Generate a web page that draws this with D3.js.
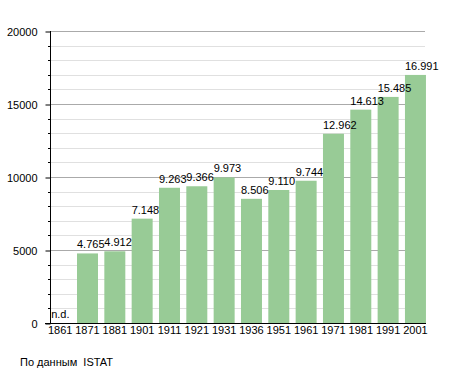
<!DOCTYPE html>
<html>
<head>
<meta charset="utf-8">
<script src="https://cdn.jsdelivr.net/npm/d3@7"></script>
<style>
  body { margin: 0; background: #fff; }
  text { font-family: "Liberation Sans", Arial, sans-serif; font-size: 11px; fill: #000; }
</style>
</head>
<body>
<div class="chart"></div>
<script>
const years = ['1861', '1871', '1881', '1901', '1911', '1921', '1931', '1936', '1951', '1961', '1971', '1981', '1991', '2001']
const population = [null, 4765, 4912, 7148, 9263, 9366, 9973, 8506, 9110, 9744, 12962, 14613, 15485, 16991]
const yTicks = [0, 5000, 10000, 15000, 20000]
const source = 'По данным  ISTAT'

const width = 455, height = 373
const plot = { left: 50, right: 425, top: 31, bottom: 323 }

const svg = d3.select('.chart').append('svg')
    .attr('width', width)
    .attr('height', height)

const x = d3.scaleBand()
    .domain(years)
    .range([46.5, 46.5 + 14 * 27.33])
    .paddingInner(0.232)
    .paddingOuter(0.116)

const y = d3.scaleLinear()
    .domain([0, 20000])
    .range([plot.bottom, plot.top])

// minor + major grid
const minor = d3.range(1000, 20001, 1000).filter(v => v % 5000 !== 0)
svg.append('g').selectAll('line')
    .data(minor)
    .enter().append('line')
    .attr('x1', plot.left).attr('x2', plot.right)
    .attr('y1', d => Math.round(y(d)) + 0.5).attr('y2', d => Math.round(y(d)) + 0.5)
    .style('stroke', '#e0e0e0')

svg.append('g').selectAll('line')
    .data(yTicks.filter(v => v > 0))
    .enter().append('line')
    .attr('x1', plot.left).attr('x2', plot.right)
    .attr('y1', d => Math.round(y(d)) + 0.5).attr('y2', d => Math.round(y(d)) + 0.5)
    .style('stroke', '#aaaaaa')

// bars
const data = years.map((d, i) => ({ year: d, value: population[i] }))
svg.append('g').selectAll('rect')
    .data(data.filter(d => d.value !== null))
    .enter().append('rect')
    .attr('x', d => x(d.year))
    .attr('y', d => y(d.value))
    .attr('width', x.bandwidth())
    .attr('height', d => plot.bottom - y(d.value))
    .style('fill', '#98cb96')

// value labels, left aligned on the bar
const fmt = v => d3.format(',')(v).replace(/,/g, '.')
svg.append('g').selectAll('text')
    .data(data)
    .enter().append('text')
    .attr('x', d => x(d.year) + (d.value === null ? 1.5 : 0))
    .attr('y', d => d.value === null ? plot.bottom - 5 : y(d.value) - 5)
    .text(d => d.value === null ? 'n.d.' : fmt(d.value))

// y axis
const yAxis = d3.axisLeft(y)
    .tickValues(yTicks)
    .tickSize(5)
    .tickPadding(8)
    .tickFormat(d3.format('d'))
const gY = svg.append('g')
    .attr('transform', `translate(${plot.left + 0.5}, 0.5)`)
    .call(yAxis)
gY.select('.domain').remove()
gY.selectAll('.tick text').style('font-size', '11px').style('font-family', null)

svg.append('g').selectAll('line')
    .data(d3.range(0, 20001, 1000).filter(v => v % 5000 !== 0))
    .enter().append('line')
    .attr('x1', plot.left - 2).attr('x2', plot.left)
    .attr('y1', d => Math.round(y(d)) + 0.5).attr('y2', d => Math.round(y(d)) + 0.5)
    .style('stroke', '#000')

svg.append('line')
    .attr('x1', plot.left + 0.5).attr('x2', plot.left + 0.5)
    .attr('y1', plot.top).attr('y2', plot.bottom)
    .style('stroke', '#000')

svg.append('line')
    .attr('x1', 45).attr('x2', 426)
    .attr('y1', plot.bottom + 0.5).attr('y2', plot.bottom + 0.5)
    .style('stroke', '#000')

// x labels
svg.append('g').selectAll('text')
    .data(years)
    .enter().append('text')
    .attr('x', d => x(d) + x.bandwidth() / 2)
    .attr('y', plot.bottom + 11)
    .attr('text-anchor', 'middle')
    .text(d => d)

svg.append('text')
    .attr('x', 20)
    .attr('y', 366)
    .style('white-space', 'pre')
    .text(source)
</script>
</body>
</html>
